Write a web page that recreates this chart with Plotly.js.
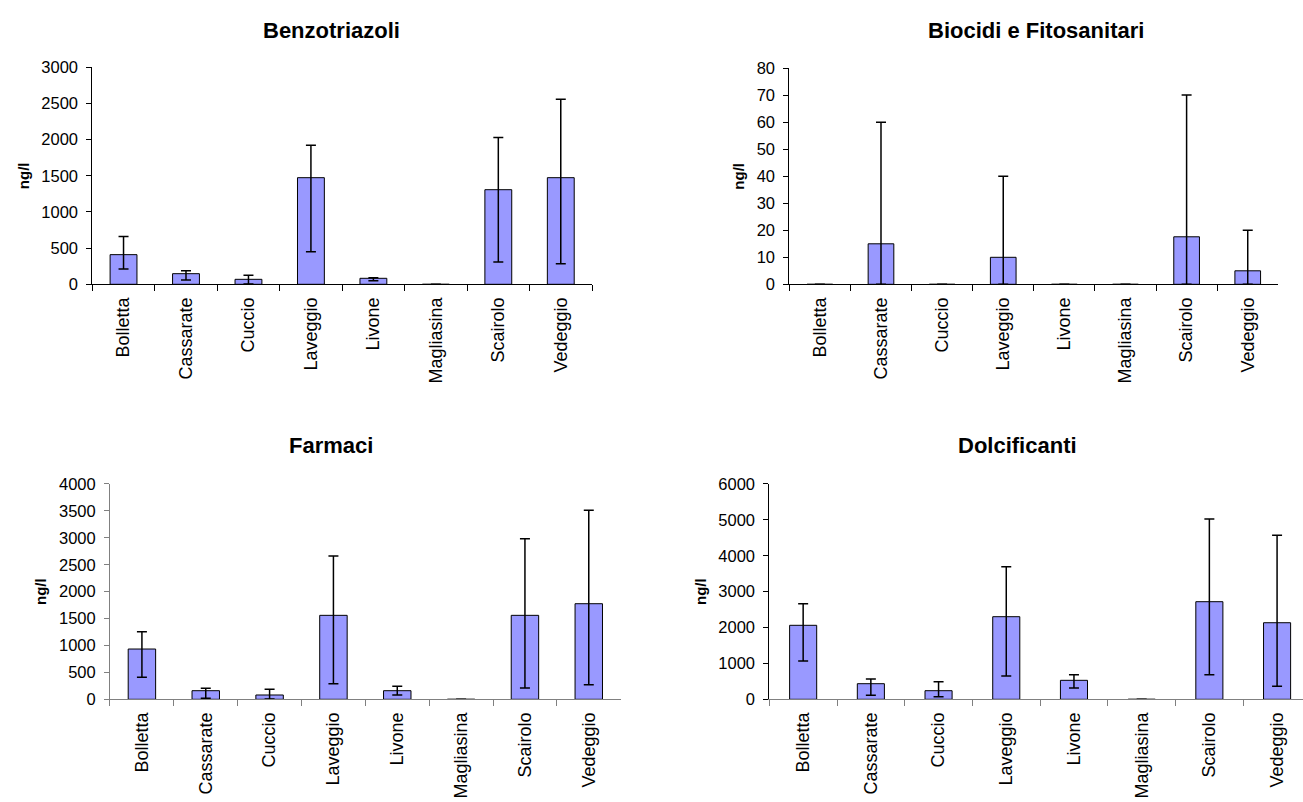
<!DOCTYPE html>
<html>
<head>
<meta charset="utf-8">
<script src="https://cdn.plot.ly/plotly-3.0.1.min.js"></script>
<style>
  html, body { margin: 0; padding: 0; background: #ffffff; }
  #chart { width: 1303px; height: 802px; }
</style>
</head>
<body>
<div id="chart"></div>
<script>
// ---- data ----
const categories = ['Bolletta', 'Cassarate', 'Cuccio', 'Laveggio', 'Livone', 'Magliasina', 'Scairolo', 'Vedeggio'];

const panelTitles = ['Benzotriazoli', 'Biocidi e Fitosanitari', 'Farmaci', 'Dolcificanti'];
const unitLabel = 'ng/l';

const benzoValues    = [410, 147, 69, 1474, 83, 0, 1308, 1474];
const benzoErrPlus   = [250, 41, 55, 450, 8, 0, 720, 1085];
const benzoErrMinus  = [200, 88, 65, 1025, 33, 0, 1000, 1190];

const biocidiValues   = [0, 15, 0, 10, 0, 0, 17.6, 5];
const biocidiErrPlus  = [0, 45, 0, 30, 0, 0, 52.5, 15];
const biocidiErrMinus = [0, 15, 0, 10, 0, 0, 17.6, 5];

const farmaciValues   = [934, 160, 80, 1560, 160, 0, 1560, 1776];
const farmaciErrPlus  = [322, 44, 106, 1102, 81, 0, 1424, 1735];
const farmaciErrMinus = [525, 141, 75, 1270, 80, 0, 1350, 1504];

const dolciValues   = [2062, 435, 240, 2302, 529, 0, 2720, 2134];
const dolciErrPlus  = [602, 131, 250, 1393, 157, 0, 2304, 2435];
const dolciErrMinus = [995, 324, 168, 1653, 214, 0, 2034, 1772];

// ---- styling ----
const FONT = 'Liberation Sans, Arial, sans-serif';
const BAR_FILL = '#9999FF';

function barTrace(values, plus, minus, xa, ya, width) {
  return {
    type: 'bar',
    x: categories,
    y: values,
    xaxis: xa,
    yaxis: ya,
    width: width,
    marker: { color: BAR_FILL, line: { color: '#000000', width: 1 } },
    error_y: {
      type: 'data', symmetric: false,
      array: plus, arrayminus: minus,
      color: '#000000', thickness: 1.5, width: 5
    },
    hoverinfo: 'x+y',
    showlegend: false
  };
}

const data = [
  barTrace(benzoValues, benzoErrPlus, benzoErrMinus, 'x', 'y', 0.43),
  barTrace(biocidiValues, biocidiErrPlus, biocidiErrMinus, 'x2', 'y2', 0.42),
  barTrace(farmaciValues, farmaciErrPlus, farmaciErrMinus, 'x3', 'y3', 0.43),
  barTrace(dolciValues, dolciErrPlus, dolciErrMinus, 'x4', 'y4', 0.40)
];

function xAxis(domain, anchor, range, lineColor) {
  return {
    domain: domain, anchor: anchor, type: 'category',
    range: range, autorange: false,
    tickson: 'boundaries', ticks: 'outside', ticklen: 6, tickwidth: 1,
    tickcolor: lineColor, tickangle: -90,
    showline: true, linecolor: lineColor, linewidth: 1,
    showgrid: false, zeroline: false,
    tickfont: { family: FONT, size: 18, color: '#000000' },
    ticklabelstandoff: 5,
    automargin: false, fixedrange: true
  };
}

function yAxis(domain, anchor, maxV, dtick, lineColor) {
  return {
    domain: domain, anchor: anchor,
    range: [0, maxV], autorange: false, dtick: dtick, tick0: 0,
    ticks: 'outside', ticklen: 5, tickwidth: 1, tickcolor: lineColor,
    showline: true, linecolor: lineColor, linewidth: 1,
    showgrid: false, zeroline: false,
    tickfont: { family: FONT, size: 16.5, color: '#000000' },
    ticklabelstandoff: 5,
    title: { text: unitLabel, font: { family: FONT, size: 15, weight: 700, color: '#000000' }, standoff: 8 },
    automargin: false, fixedrange: true
  };
}

function titleAnn(text, x, yPx) {
  return {
    text: text, xref: 'paper', yref: 'paper',
    x: x, y: 1 - yPx / 802, xanchor: 'center', yanchor: 'middle',
    showarrow: false,
    font: { family: FONT, size: 22, weight: 700, color: '#000000' }
  };
}

const layout = {
  width: 1303, height: 802,
  margin: { l: 0, r: 0, t: 0, b: 0, pad: 0 },
  paper_bgcolor: '#ffffff', plot_bgcolor: '#ffffff',
  showlegend: false,
  xaxis:  xAxis([0.07084, 0.45434], 'y',  [-0.5, 7.5], '#000000'),
  yaxis:  yAxis([0.6455, 0.9161],   'x',  3000, 500, '#000000'),
  xaxis2: xAxis([0.60576, 0.98104], 'y2', [-0.5, 7.5], '#000000'),
  yaxis2: yAxis([0.6455, 0.91484],  'x2', 80, 10, '#000000'),
  xaxis3: xAxis([0.08442, 0.47636], 'y3', [-0.5, 7.5], '#808080'),
  yaxis3: yAxis([0.12805, 0.39651], 'x3', 4000, 500, '#808080'),
  xaxis4: xAxis([0.59041, 1.0],     'y4', [-0.5, 7.383], '#808080'),
  yaxis4: yAxis([0.12805, 0.39651], 'x4', 6000, 1000, '#000000'),
  annotations: [
    titleAnn(panelTitles[0], 331 / 1303, 31),
    titleAnn(panelTitles[1], 1036 / 1303, 31),
    titleAnn(panelTitles[2], 331 / 1303, 445),
    titleAnn(panelTitles[3], 1018 / 1303, 445)
  ]
};

Plotly.newPlot('chart', data, layout, { staticPlot: true, displayModeBar: false });
</script>
</body>
</html>
